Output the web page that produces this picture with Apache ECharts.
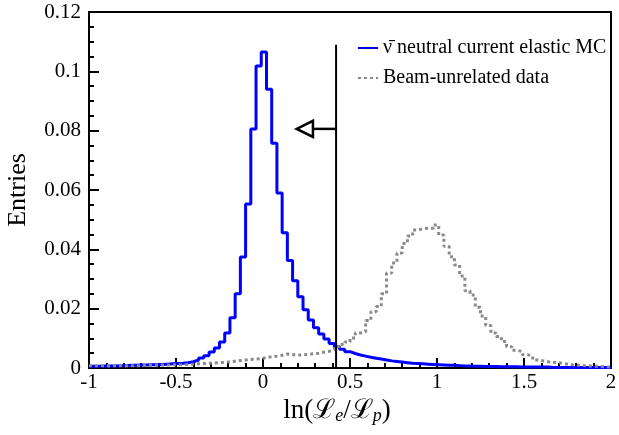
<!DOCTYPE html>
<html>
<head>
<meta charset="utf-8">
<script src="https://cdn.jsdelivr.net/npm/echarts@6/dist/echarts.min.js"></script>
<style>html,body{margin:0;padding:0;background:#fff;}#c{width:619px;height:435px;}</style>
</head>
<body>
<div id="c"></div>
<script>
// Histogram: 100 bins from -1 to 2 (width 0.03)
const binMin = -1;
const binWidth = 0.03;
const mcValues = [
  0.0006,0.0006,0.0007,0.0007,0.0007,0.0008,0.0008,0.0009,0.0009,0.0010,
  0.0010,0.0011,0.0011,0.0012,0.0013,0.0014,0.0015,0.0016,0.0018,0.0021,
  0.0027,0.0034,0.0041,0.0054,0.0067,0.0088,0.0118,0.0169,0.0250,0.0374,
  0.0553,0.0806,0.1018,0.1065,0.0940,0.0758,0.0590,0.0456,0.0362,0.0294,
  0.0240,0.0196,0.0162,0.0136,0.0115,0.0098,0.0083,0.0072,0.0063,0.0055,
  0.0049,0.0044,0.0040,0.0036,0.0033,0.0030,0.0027,0.0024,0.0022,0.0020,
  0.0018,0.0016,0.0015,0.0014,0.0013,0.0012,0.0011,0.0010,0.0009,0.0009,
  0.0008,0.0007,0.0007,0.0006,0.0006,0.0005,0.0005,0.0005,0.0004,0.0004,
  0.0004,0.0004,0.0003,0.0003,0.0003,0.0003,0.0003,0.0003,0.0002,0.0002,
  0.0002,0.0002,0.0002,0.0002,0.0002,0.0002,0.0002,0.0002,0.0002,0.0002
];
const beamValues = [
  0.0008,0.0007,0.0008,0.0007,0.0008,0.0008,0.0007,0.0008,0.0008,0.0008,
  0.0009,0.0009,0.0009,0.0010,0.0010,0.0010,0.0011,0.0011,0.0012,0.0013,
  0.0014,0.0015,0.0016,0.0017,0.0018,0.0019,0.0021,0.0023,0.0025,0.0027,
  0.0029,0.0030,0.0032,0.0035,0.0038,0.0040,0.0043,0.0047,0.0045,0.0044,
  0.0044,0.0046,0.0048,0.0050,0.0053,0.0056,0.0062,0.0072,0.0079,0.0088,
  0.0101,0.0118,0.0122,0.0160,0.0190,0.0207,0.0250,0.0320,0.0354,0.0388,
  0.0420,0.0445,0.0465,0.0470,0.0471,0.0471,0.0482,0.0448,0.0410,0.0375,
  0.0347,0.0310,0.0260,0.0246,0.0205,0.0175,0.0143,0.0118,0.0106,0.0089,
  0.0072,0.0060,0.0055,0.0045,0.0040,0.0027,0.0024,0.0021,0.0019,0.0018,
  0.0015,0.0012,0.0010,0.0009,0.0008,0.0007,0.0006,0.0005,0.0004,0.0003
];
const seriesNames = ['\u03BD\u0304 neutral current elastic MC', 'Beam-unrelated data'];
// Cut annotation
const cutValue = 0.42;
const cutTop = 0.109;
const arrowY = 0.0806;
const arrowHeadBase = 0.287;
const arrowTip = 0.194;

function stepPoints(vals) {
  const pts = [];
  for (let i = 0; i < vals.length; i++) pts.push([binMin + i * binWidth, vals[i]]);
  pts.push([binMin + vals.length * binWidth, vals[vals.length - 1]]);
  return pts;
}

const serif = 'Liberation Serif, Times New Roman, serif';
const chart = echarts.init(document.getElementById('c'));
chart.setOption({
  animation: false,
  backgroundColor: '#fff',
  grid: { left: 89, right: 8, top: 12, bottom: 67, containLabel: false, outerBoundsMode: 'none',
    show: true, borderColor: '#000', borderWidth: 2, backgroundColor: 'transparent' },
  legend: {
    data: seriesNames,
    orient: 'vertical',
    left: 352, top: 33,
    itemWidth: 20, itemHeight: 14, itemGap: 10,
    itemStyle: { opacity: 0 },
    textStyle: { fontFamily: serif, fontSize: 20, color: '#000' }
  },
  xAxis: {
    type: 'value', min: -1, max: 2, interval: 0.5,
    name: 'ln(\u2112{sub|e}/\u2112{sub|p})',
    nameLocation: 'middle', nameGap: 28,
    nameTextStyle: { fontFamily: serif, fontSize: 27, color: '#000', padding: [0, 26, 0, 0],
      rich: { sub: { fontFamily: serif, fontStyle: 'italic', fontSize: 18, verticalAlign: 'bottom', padding: [10, 0, 0, 0] } } },
    axisLine: { show: true, onZero: false, lineStyle: { color: '#000', width: 2 } },
    axisTick: { inside: true, length: 10, lineStyle: { color: '#000', width: 2 } },
    minorTick: { show: true, splitNumber: 5, length: 5, lineStyle: { color: '#000', width: 2 } },
    splitLine: { show: false },
    axisLabel: { fontFamily: serif, fontSize: 21, color: '#000', margin: 4 }
  },
  yAxis: {
    type: 'value', min: 0, max: 0.12, interval: 0.02,
    name: 'Entries', nameLocation: 'middle', nameGap: 58, nameRotate: 90,
    nameTextStyle: { fontFamily: serif, fontSize: 26, color: '#000' },
    axisLine: { show: true, onZero: false, lineStyle: { color: '#000', width: 2 } },
    axisTick: { inside: true, length: 10, lineStyle: { color: '#000', width: 2 } },
    minorTick: { show: true, splitNumber: 4, length: 5, lineStyle: { color: '#000', width: 2 } },
    splitLine: { show: false },
    axisLabel: { fontFamily: serif, fontSize: 21, color: '#000', margin: 8 }
  },
  series: [
    {
      name: seriesNames[0], type: 'line', step: 'end', showSymbol: false, symbol: 'none',
      data: stepPoints(mcValues),
      lineStyle: { color: '#0000ff', width: 3 }, itemStyle: { color: '#0000ff' }, z: 3
    },
    {
      name: seriesNames[1], type: 'line', step: 'end', showSymbol: false, symbol: 'none',
      data: stepPoints(beamValues),
      lineStyle: { color: '#8a8a8a', width: 3, type: [3, 3] }, itemStyle: { color: '#8a8a8a' }, z: 4
    },
    {
      type: 'custom', clip: false, z: 5, silent: true,
      data: [[cutValue, cutTop]],
      renderItem: function (params, api) {
        const b = api.coord([cutValue, 0]);
        const t = api.coord([cutValue, cutTop]);
        const a0 = api.coord([cutValue, arrowY]);
        const ab = api.coord([arrowHeadBase, arrowY]);
        const at = api.coord([arrowTip, arrowY]);
        return {
          type: 'group',
          children: [
            { type: 'line', shape: { x1: b[0], y1: b[1], x2: t[0], y2: t[1] }, style: { stroke: '#000', lineWidth: 2 } },
            { type: 'line', shape: { x1: a0[0], y1: a0[1], x2: ab[0], y2: ab[1] }, style: { stroke: '#000', lineWidth: 2.5 } },
            { type: 'polygon', shape: { points: [[at[0], at[1]], [ab[0], ab[1] - 8], [ab[0], ab[1] + 8]] }, style: { fill: '#fff', stroke: '#000', lineWidth: 2.5 } }
          ]
        };
      }
    }
  ]
});
</script>
</body>
</html>
